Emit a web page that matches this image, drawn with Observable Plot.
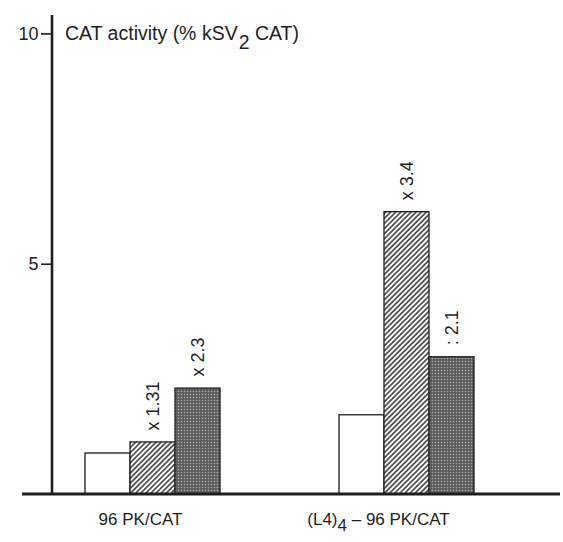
<!DOCTYPE html>
<html><head><meta charset="utf-8">
<script src="https://cdn.jsdelivr.net/npm/d3@7"></script>
<script src="https://cdn.jsdelivr.net/npm/@observablehq/plot@0.6"></script>
<style>
body{margin:0;background:#fff}
svg{font-family:"Liberation Sans",Arial,Helvetica,sans-serif}
</style>
</head><body><div id="chart"></div>
<script>
// ---- data ----
const groups = ["96 PK/CAT", "(L4)4 – 96 PK/CAT"];
const series = ["basal", "condition A", "condition B"];
const values96 = [0.89, 1.13, 2.30];
const valuesL4 = [1.72, 6.13, 2.98];
const notes96 = ["", "x 1.31", "x 2.3"];
const notesL4 = ["", "x 3.4", ": 2.1"];
const yTicks = [5, 10];
const yLabel = ["CAT activity (% kSV", "2", " CAT)"];
const groupLabelParts = [["96 PK/CAT"], ["(L4)", "4", " – 96 PK/CAT"]];

const seriesValues = [values96, valuesL4];
const seriesNotes = [notes96, notesL4];
const data = groups.flatMap((g, i) => series.map((s, j) => ({
  group: g, series: s, value: seriesValues[i][j], note: seriesNotes[i][j]
})));

// ---- layout ----
const W = 563, H = 542;
const M = {left: 52, right: 3, top: 15, bottom: 48};
const ink = "#1e1e1e";

const plot = Plot.plot({
  width: W, height: H,
  marginLeft: M.left, marginRight: M.right, marginTop: M.top, marginBottom: M.bottom,
  style: {fontFamily: "Liberation Sans, Arial, Helvetica, sans-serif", fontSize: "18px", color: ink, background: "white", overflow: "visible"},
  fx: {domain: groups, paddingInner: 0, paddingOuter: 0, align: 0, axis: null, label: null},
  x: {domain: series, paddingInner: 0, paddingOuter: 1.322, align: 0.277, axis: null, label: null},
  y: {domain: [0, 10.4], axis: null, label: null},
  color: {domain: series, range: ["white", "url(#hatch)", "url(#dots)"]},
  marks: [
    Plot.axisY(yTicks, {anchor: "left", tickSize: 11, tickPadding: 3, strokeWidth: 1.6, fontSize: 18, label: null, tickFormat: d => String(d)}),
    Plot.barY(data, {fx: "group", x: "series", y: "value", fill: "series", stroke: ink, strokeWidth: 1.3}),
    Plot.text(data, {fx: "group", x: "series", y: "value", text: "note", rotate: -90, textAnchor: "start", dy: -12, fontSize: 18, fill: ink})
  ]
});

const svg = d3.select(plot);
// patterns
const defs = svg.insert("defs", ":first-child");
const hatch = defs.append("pattern").attr("id", "hatch").attr("patternUnits", "userSpaceOnUse")
  .attr("width", 3.6).attr("height", 3.6).attr("patternTransform", "rotate(45)");
hatch.append("rect").attr("width", 3.6).attr("height", 3.6).attr("fill", "white");
hatch.append("line").attr("x1", 1.8).attr("y1", -1).attr("x2", 1.8).attr("y2", 4.6).attr("stroke", "#4a4a4a").attr("stroke-width", 1.7);
const dots = defs.append("pattern").attr("id", "dots").attr("patternUnits", "userSpaceOnUse")
  .attr("width", 3).attr("height", 3);
dots.append("rect").attr("width", 3).attr("height", 3).attr("fill", "#545454");
dots.append("rect").attr("x", 0.75).attr("y", 0.75).attr("width", 1.5).attr("height", 1.5).attr("fill", "#b0b0b0");

const yS = plot.scale("y");
const fxS = plot.scale("fx");
const xS = plot.scale("x");
const y0 = yS.apply(0), yTop = yS.apply(10.4);

// axis lines
svg.append("line").attr("x1", M.left).attr("x2", M.left).attr("y1", yTop).attr("y2", y0 + 1)
  .attr("stroke", ink).attr("stroke-width", 2.6);
svg.append("line").attr("x1", 22).attr("x2", W - M.right).attr("y1", y0).attr("y2", y0)
  .attr("stroke", ink).attr("stroke-width", 3);

// y label (title inside plot)
const t = svg.append("text").attr("x", 65).attr("y", yS.apply(10) + 7)
  .attr("text-anchor", "start").attr("fill", ink).attr("font-size", 19.5);
t.append("tspan").text(yLabel[0]);
t.append("tspan").attr("dy", 9).attr("dx", 1).text(yLabel[1]);
t.append("tspan").attr("dy", -9).text(yLabel[2]);

// group labels
const labelDx = [-12, -28];
groups.forEach((g, i) => {
  const cx = fxS.apply(g) + xS.apply(series[0]) + 1.5 * xS.bandwidth - M.left + labelDx[i];
  const tx = svg.append("text").attr("x", cx).attr("y", y0 + 31).attr("text-anchor", "middle")
    .attr("fill", ink).attr("font-size", 17);
  const parts = groupLabelParts[i];
  tx.append("tspan").text(parts[0]);
  if (parts.length > 1) {
    tx.append("tspan").attr("dy", 6).text(parts[1]);
    tx.append("tspan").attr("dy", -6).text(parts[2]);
  }
});

document.getElementById("chart").appendChild(plot);
</script>
</body></html>
